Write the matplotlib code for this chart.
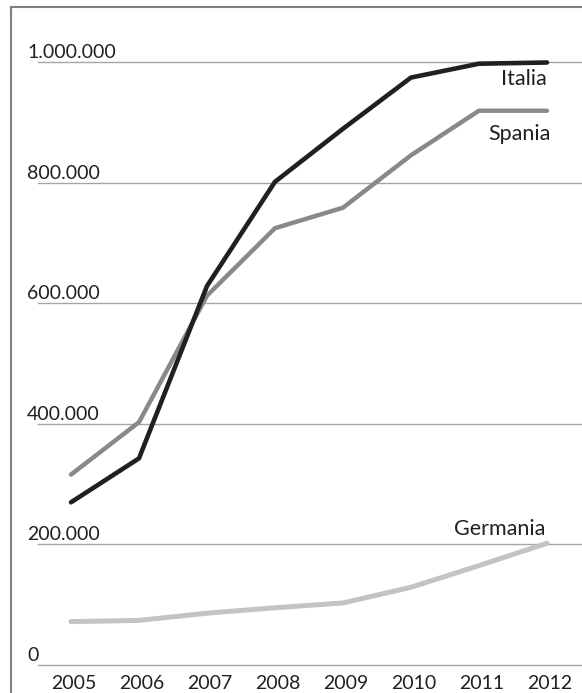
import matplotlib
matplotlib.use("Agg")
import matplotlib.pyplot as plt
from matplotlib import transforms
from matplotlib.lines import Line2D

# ---------- data ----------
years = [2005, 2006, 2007, 2008, 2009, 2010, 2011, 2012]
italia = [270000, 343000, 629000, 802000, 890000, 975000, 998000, 1000000]
spania = [316000, 403000, 613000, 725000, 759000, 846000, 920000, 920000]
germania = [72000, 74000, 86000, 95000, 103000, 129000, 165000, 202000]
yticks = [0, 200000, 400000, 600000, 800000, 1000000]
ytick_labels = ["0", "200.000", "400.000", "600.000", "800.000", "1.000.000"]

FONT = ["Lato", "DejaVu Sans"]
TXT = "#231f20"

W, H = 582, 693
fig = plt.figure(figsize=(W / 100, H / 100), dpi=100)
ax = fig.add_axes([0, 0, 1, 1])
ax.set_xlim(2003.956, 2012.515)
ax.set_ylim(-46473, 1103734)
ax.axis("off")

# outer frame (left + top only)
fig.add_artist(Line2D([11 / W, 11 / W], [0, 1 - 7 / H], color="#808080", lw=1.5))
fig.add_artist(Line2D([11 / W, 1], [1 - 7 / H, 1 - 7 / H], color="#808080", lw=1.5))

# gridlines + labels
for v, lab in zip(yticks, ytick_labels):
    ax.axhline(v, xmin=38 / W, xmax=1, color="#a5a5a5", lw=1.0, zorder=1)
    tr = transforms.offset_copy(ax.get_yaxis_transform(), fig=fig, x=0, y=4, units="dots")
    ax.text(27 / W, v, lab, transform=tr, ha="left", va="baseline",
            fontsize=14, color=TXT, family=FONT)

for yr in years:
    tr = transforms.offset_copy(ax.transData, fig=fig, x=3, y=-18, units="dots")
    ax.text(yr, 0, str(yr), transform=tr, ha="center", va="center",
            fontsize=14, color=TXT, family=FONT)

# series
ax.plot(years, germania, color="#c2c3c5", lw=3.6, solid_capstyle="round", zorder=3)
ax.plot(years, spania, color="#88898b", lw=3.2, solid_capstyle="round", zorder=4)
ax.plot(years, italia, color="#231f20", lw=3.3, solid_capstyle="round", zorder=5)

# series labels
def label(txt, y, dx, dy):
    tr = transforms.offset_copy(ax.transData, fig=fig, x=dx, y=dy, units="dots")
    ax.text(years[-1], y, txt, transform=tr, ha="right", va="baseline",
            fontsize=15.5, color=TXT, family=FONT)

label("Italia", italia[-1], 0, -23)
label("Spania", spania[-1], 4, -29)
label("Germania", germania[-1], -2, 8)

fig.savefig("out.png", dpi=100)
